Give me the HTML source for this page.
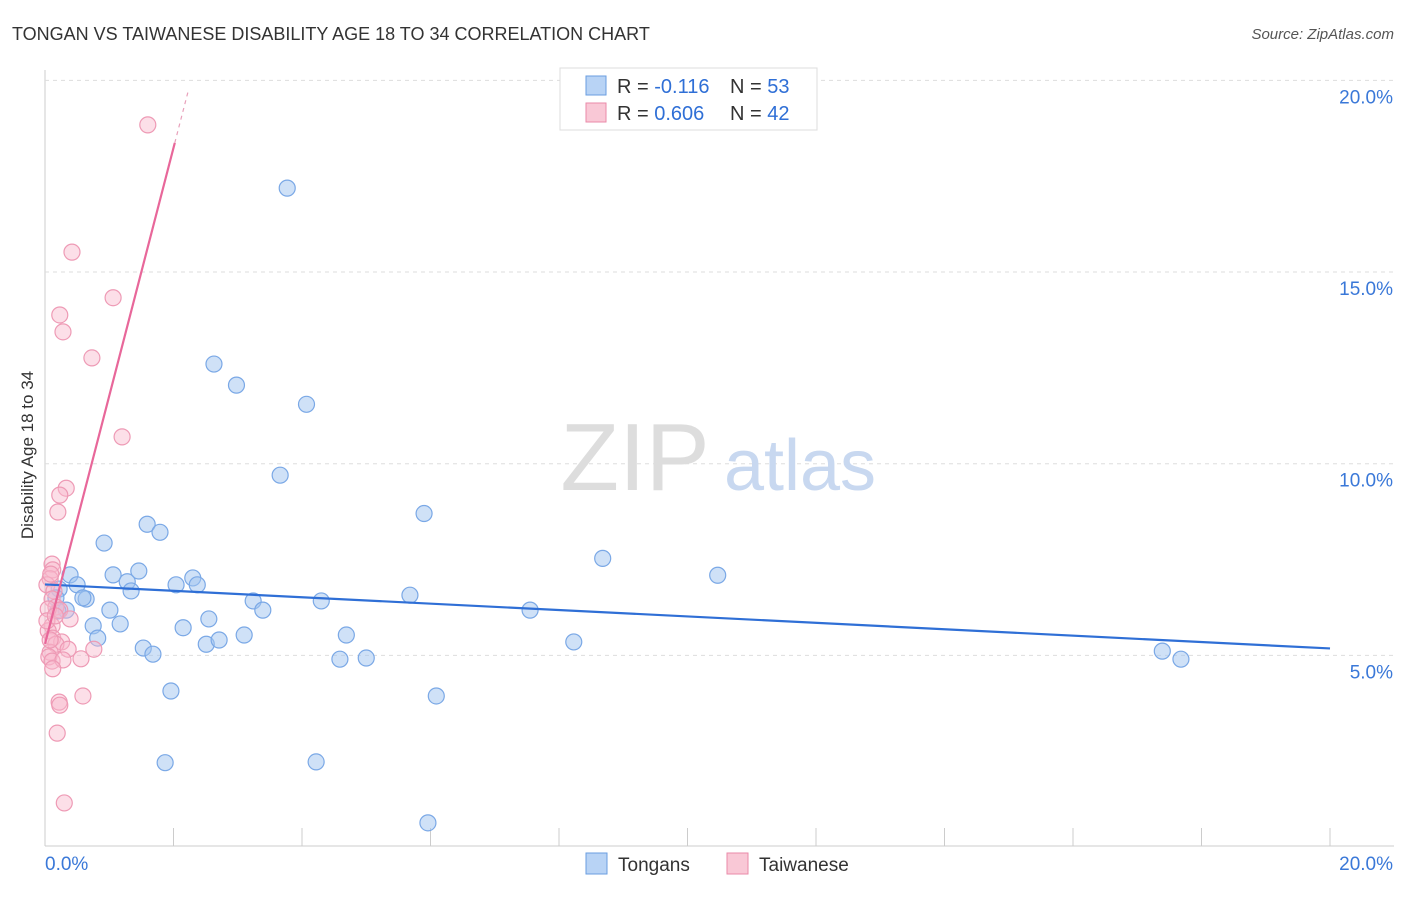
<!DOCTYPE html>
<html><head><meta charset="utf-8"><style>
body{margin:0;background:#fff;font-family:"Liberation Sans",sans-serif;}
svg text{font-family:"Liberation Sans",sans-serif;}
</style></head><body>
<svg id="chart" width="1406" height="892">
<text x="12" y="40" font-size="18" fill="#333">TONGAN VS TAIWANESE DISABILITY AGE 18 TO 34 CORRELATION CHART</text>
<text x="1394" y="39" font-size="15" fill="#555" font-style="italic" text-anchor="end">Source: ZipAtlas.com</text>
<text x="33" y="455" font-size="17" fill="#333" text-anchor="middle" transform="rotate(-90 33 455)">Disability Age 18 to 34</text>
<g id="grid"></g>
<g><text x="635" y="490" font-size="96" fill="#ddd" text-anchor="middle" font-family="Liberation Serif,serif">ZIP</text><text x="800" y="490" font-size="72" fill="#c8d8f0" text-anchor="middle">atlas</text></g>
<g id="marks"></g>
<g>
<rect x="560" y="68" width="257" height="62" fill="#fff" stroke="#ddd"/>
<rect x="586" y="76" width="20" height="19" fill="#b8d3f5" stroke="#6a9ee0"/>
<text x="617" y="93" font-size="20" fill="#333">R = <tspan fill="#2f6fd6">-0.116</tspan></text>
<text x="730" y="93" font-size="20" fill="#333">N = <tspan fill="#2f6fd6">53</tspan></text>
<rect x="586" y="103" width="20" height="19" fill="#f9c8d6" stroke="#ea8aa8"/>
<text x="617" y="120" font-size="20" fill="#333">R = <tspan fill="#2f6fd6">0.606</tspan></text>
<text x="730" y="120" font-size="20" fill="#333">N = <tspan fill="#2f6fd6">42</tspan></text>
</g>
<g>
<rect x="586" y="853" width="21" height="21" fill="#b8d3f5" stroke="#6a9ee0"/><text x="618" y="871" font-size="19" fill="#333">Tongans</text>
<rect x="727" y="853" width="21" height="21" fill="#f9c8d6" stroke="#ea8aa8"/><text x="759" y="871" font-size="19" fill="#333">Taiwanese</text>
</g>
</svg>
<script>
const yTicks=[5,10,15,20];
const xTickLabels=["0.0%","20.0%"];
const tonganX=[3.77,2.63,2.98,4.07,3.66,5.9,1.59,1.79,0.92,8.68,10.47,1.46,1.06,0.39,1.28,2.3,2.04,2.37,1.34,0.5,0.22,0.17,0.64,0.59,5.68,3.24,4.3,3.39,1.01,7.55,0.33,0.2,2.55,0.75,1.17,2.15,4.69,3.1,0.82,8.23,2.51,2.71,1.53,1.68,4.59,5.0,17.39,17.68,1.96,6.09,1.87,4.22,5.96];
const tonganY=[17.19,12.6,12.05,11.55,9.7,8.7,8.42,8.21,7.93,7.53,7.09,7.2,7.1,7.1,6.92,7.02,6.84,6.84,6.68,6.84,6.73,6.5,6.47,6.5,6.57,6.42,6.42,6.18,6.18,6.18,6.18,6.16,5.95,5.77,5.82,5.72,5.53,5.53,5.45,5.35,5.29,5.4,5.19,5.03,4.9,4.93,5.11,4.9,4.07,3.94,2.2,2.22,0.63];
const taiwanX=[1.6,0.42,1.06,0.23,0.28,0.73,1.2,0.33,0.23,0.2,0.11,0.12,0.08,0.03,0.14,0.11,0.17,0.23,0.05,0.39,0.11,0.05,0.12,0.26,0.17,0.36,0.76,0.08,0.06,0.11,0.28,0.56,0.12,0.59,0.22,0.23,0.19,0.3,0.08,0.03,0.16,0.09];
const taiwanY=[18.84,15.52,14.33,13.88,13.44,12.76,10.7,9.36,9.18,8.74,7.38,7.23,7.0,6.84,6.68,6.47,6.26,6.18,6.21,5.95,5.77,5.64,5.45,5.35,5.29,5.16,5.16,5.08,4.96,4.85,4.88,4.91,4.65,3.94,3.78,3.7,2.97,1.15,5.4,5.9,6.03,7.12];
const blueLine=[6.85,5.18];
const pinkLine=[5.3,18.37];
const ns="http://www.w3.org/2000/svg";
const X=v=>45+v*64.25, Y=v=>847-v*38.33;
function mk(t,a,p){const e=document.createElementNS(ns,t);for(const k in a)e.setAttribute(k,a[k]);p.appendChild(e);return e;}
const grid=document.getElementById('grid'),marks=document.getElementById('marks');
mk('line',{x1:45,y1:70,x2:45,y2:846,stroke:'#ccc'},grid);
mk('line',{x1:45,y1:846,x2:1394,y2:846,stroke:'#ccc'},grid);
for(const t of yTicks){
 const l=mk('line',{x1:45,y1:Y(t),x2:1394,y2:Y(t),stroke:'#ddd','stroke-dasharray':'4,4'},grid);
 
 
 const tx=mk('text',{x:1393,y:Y(t)+23,'font-size':19,fill:'#3a78d8','text-anchor':'end'},grid);tx.textContent=t.toFixed(1)+'%';
 
 
}
for(let i=1;i<=10;i++){const l=mk('line',{x1:X(i*2),y1:828,x2:X(i*2),y2:846,stroke:'#ccc'},grid);}
const xl0=mk('text',{x:45,y:870,'font-size':19,fill:'#3a78d8'},grid);xl0.textContent=xTickLabels[0];


const xl1=mk('text',{x:1393,y:870,'font-size':19,fill:'#3a78d8','text-anchor':'end'},grid);xl1.textContent=xTickLabels[1];


tonganX.forEach((x,i)=>{const c=mk('circle',{cx:X(x),cy:Y(tonganY[i]),r:8,fill:'rgba(160,195,240,0.5)',stroke:'#7aa8e6','stroke-width':1.2},marks);
 
 });
taiwanX.forEach((x,i)=>{const c=mk('circle',{cx:X(x),cy:Y(taiwanY[i]),r:8,fill:'rgba(248,185,205,0.45)',stroke:'#ee9ab5','stroke-width':1.2},marks);
 
 });
const bl=mk('line',{x1:X(0),y1:Y(blueLine[0]),x2:X(20),y2:Y(blueLine[1]),stroke:'#2f6fd6','stroke-width':2.2},marks);


const pm=(pinkLine[1]-pinkLine[0])/2.02;
const pl=mk('line',{x1:X(0),y1:Y(pinkLine[0]),x2:X(2.02),y2:Y(pinkLine[1]),stroke:'#e8679a','stroke-width':2.2},marks);


const pd=mk('line',{x1:X(2.02),y1:Y(pinkLine[1]),x2:X(2.23),y2:Y(pinkLine[1]+pm*0.21),stroke:'#e8a0ba','stroke-width':1.2,'stroke-dasharray':'4,4'},marks);


</script>
</body></html>
